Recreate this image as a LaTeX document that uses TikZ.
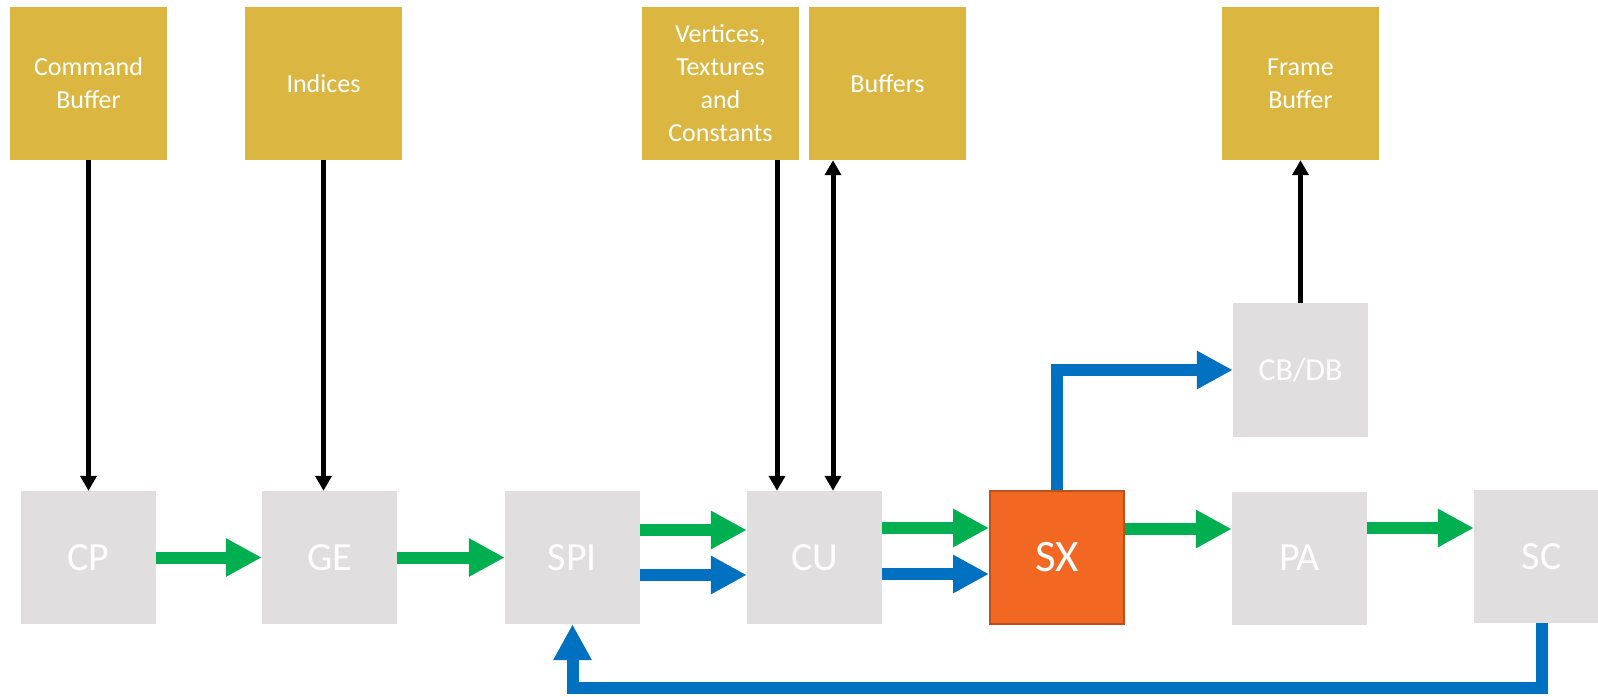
\documentclass[tikz,border=0pt]{standalone}
\usepackage{fontspec}
\setmainfont{Carlito}
\usetikzlibrary{arrows.meta}
\definecolor{goldc}{HTML}{DBB641}
\definecolor{grayc}{HTML}{E0DEDF}
\definecolor{greenc}{HTML}{00B050}
\definecolor{bluec}{HTML}{0070C0}
\definecolor{orangec}{HTML}{F26722}
\definecolor{orangeb}{HTML}{B9521C}
\begin{document}
\begin{tikzpicture}[x=1pt,y=-1pt,
  goldbox/.style={fill=goldc, text=white, minimum width=157pt, minimum height=153pt, inner sep=0pt, font=\fontsize{26}{33}\selectfont, align=center},
  graybox/.style={fill=grayc, text=white, minimum width=135pt, minimum height=133pt, inner sep=0pt, font=\fontsize{40}{48}\selectfont},
  greenarrow/.style={draw=greenc, line width=12pt, -{Triangle[length=36pt,width=36pt]}},
  bluearrow/.style={draw=bluec, line width=12pt, -{Triangle[length=36pt,width=36pt]}},
  blackarrow/.style={draw=black, line width=5pt, -{Triangle[length=15pt,width=16pt]}},
  blackdouble/.style={draw=black, line width=5pt, {Triangle[length=15pt,width=16pt]}-{Triangle[length=15pt,width=16pt]}}
]
\useasboundingbox (0,0) rectangle (1598,696);
\clip (0,0) rectangle (1598,696);
\fill[white] (0,0) rectangle (1598,696);

% source boxes
\node[goldbox] (cmd) at (88.5,83.5) {Command\\Buffer};
\node[goldbox] (idx) at (323.5,83.5) {Indices};
\node[goldbox] (vtc) at (720.5,83.5) {Vertices,\\Textures\\and\\Constants};
\node[goldbox] (buf) at (887.5,83.5) {Buffers};
\node[goldbox] (fb) at (1300.5,83.5) {Frame\\Buffer};

% pipeline boxes
\node[graybox] (cp) at (88.5,557.5) {CP};
\node[graybox] (ge) at (329.5,557.5) {GE};
\node[graybox] (spi) at (572.5,557.5) {SPI};
\node[graybox] (cu) at (814.5,557.5) {CU};
\node[fill=orangec, draw=orangeb, line width=2pt, text=white, minimum width=134pt, minimum height=133pt, inner sep=0pt, font=\fontsize{45}{54}\selectfont] (sx) at (1057,557.5) {SX};
\node[graybox] (pa) at (1299.5,558) {PA};
\node[graybox] (sc) at (1541.5,556.5) {SC};
\node[graybox, minimum height=134pt, font=\fontsize{32}{38}\selectfont] (cbdb) at (1300.5,370) {CB/DB};

% black arrows
\draw[blackarrow] (cmd.south) -- (cmd.south |- cp.north);
\draw[blackarrow] (idx.south) -- (idx.south |- ge.north);
\draw[blackarrow] ([xshift=56.5pt]vtc.south) -- ([xshift=-37.5pt]cu.north);
\draw[blackdouble] ([xshift=-54.5pt]buf.south) -- ([xshift=18.5pt]cu.north);
\draw[blackarrow] (cbdb.north) -- (fb.south);

% green and blue arrows
\draw[greenarrow] (cp.east) -- (ge.west);
\draw[greenarrow] (ge.east) -- (spi.west);
\draw[greenarrow] ([yshift=27.5pt]spi.east) -- ([yshift=27.5pt]cu.west);
\draw[bluearrow] ([yshift=-17.5pt]spi.east) -- ([yshift=-17.5pt]cu.west);
\draw[greenarrow] ([yshift=29.5pt]cu.east) -- ([yshift=29.5pt]sx.west);
\draw[bluearrow] ([yshift=-16.5pt]cu.east) -- ([yshift=-16.5pt]sx.west);
\draw[greenarrow] ([yshift=28.5pt]sx.east) -- ([yshift=28.5pt]sx.east -| pa.west);
\draw[greenarrow] ([yshift=30pt]pa.east) -- ([yshift=30pt]pa.east -| sc.west);
\draw[bluearrow] (sx.north) |- (cbdb.west);
\draw[bluearrow] (sc.south) |- ([yshift=-64pt]spi.south) -- (spi.south);
\end{tikzpicture}
\end{document}
